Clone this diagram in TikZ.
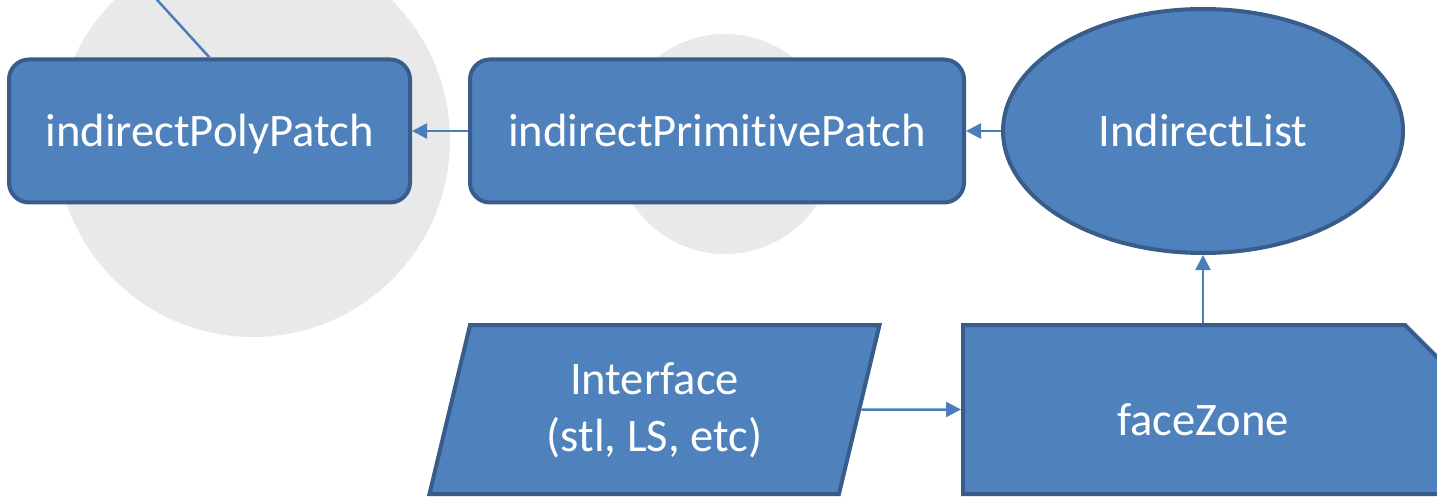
\documentclass[tikz,border=0pt]{standalone}
\usepackage{fontspec}
\setmainfont{Carlito}[Ligatures=CommonOff]
\usetikzlibrary{arrows.meta,shapes.geometric,shapes.misc}
\definecolor{boxfill}{HTML}{4F81BD}
\definecolor{boxline}{HTML}{385D8A}
\definecolor{arrowc}{HTML}{4A7EBB}
\definecolor{bggray}{HTML}{E9E9E9}
\begin{document}
\begin{tikzpicture}[x=1pt,y=-1pt,
  shapebox/.style={fill=boxfill, draw=boxline, line width=4pt, text=white,
    font=\fontsize{46.6}{57}\selectfont, inner sep=0pt, align=center},
  oneline/.style={text height=32pt, text depth=0pt},
  conn/.style={draw=arrowc, line width=2.5pt, -{Triangle[length=15pt,width=15pt]}},
  plainline/.style={draw=arrowc, line width=2.5pt}]
\useasboundingbox (0,0) rectangle (1437,497);
\clip (0,0) rectangle (1437,497);
\fill[bggray] (253,140) circle[radius=197pt];
\fill[bggray] (725,144) circle[radius=110pt];
\node[shapebox, oneline, rounded corners=20pt, minimum width=401pt, minimum height=143pt]
  (poly) at (209.5,131) {indirectPolyPatch};
\node[shapebox, oneline, rounded corners=20pt, minimum width=494pt, minimum height=143pt]
  (prim) at (717,131) {indirectPrimitivePatch};
\node[shapebox, oneline, ellipse, minimum width=400pt, minimum height=244pt]
  (ilist) at (1203,131) {IndirectList};
\node[shapebox, trapezium, trapezium left angle=75.7, trapezium right angle=104.3,
  trapezium stretches=true, minimum width=451pt, minimum height=169pt, text depth=4pt]
  (iface) at (654.5,409.5) {Interface\\(stl, LS, etc)};
\node[shapebox, chamfered rectangle, chamfered rectangle corners=north east,
  chamfered rectangle xsep=19pt, chamfered rectangle ysep=19pt,
  text height=52pt, text depth=0pt,
  minimum width=480pt, minimum height=169pt]
  (face) at (1203,409.5) {faceZone};
\draw[conn] (prim.west) -- (poly.east);
\draw[conn] (ilist.west) -- (prim.east);
\draw[conn] (face.north) -- (ilist.south);
\draw[conn] (iface.east) -- (face.west);
\coordinate (upper) at (139,-20);
\draw[plainline] (upper) -- (poly.north);
\end{tikzpicture}
\end{document}
